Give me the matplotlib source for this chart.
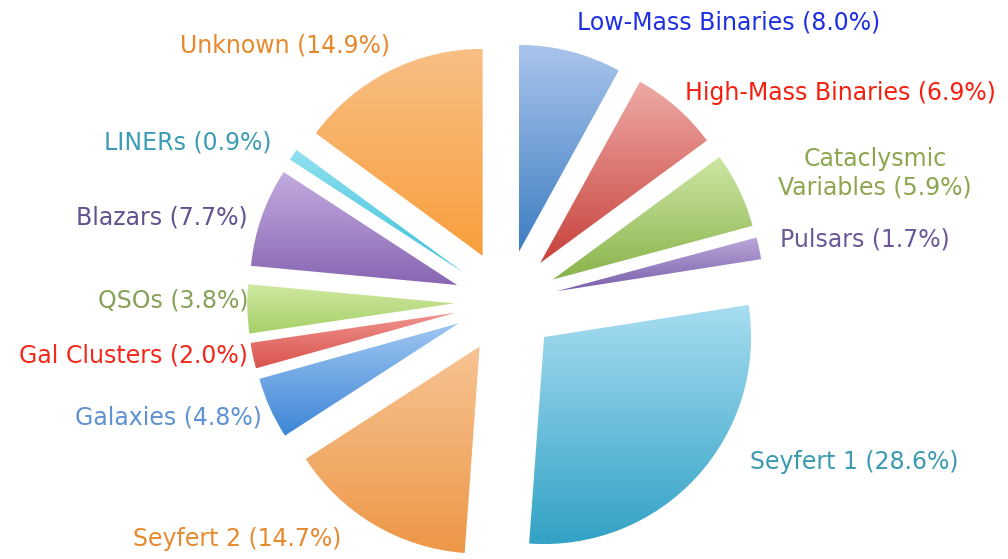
import numpy as np
import matplotlib
matplotlib.use("Agg")
import matplotlib.pyplot as plt
from matplotlib.colors import LinearSegmentedColormap

# source categories, clockwise from 12 o'clock
categories = ["Low-Mass Binaries", "High-Mass Binaries", "Cataclysmic\nVariables", "Pulsars",
              "Seyfert 1", "Seyfert 2", "Galaxies", "Gal Clusters", "QSOs", "Blazars",
              "LINERs", "Unknown"]
shares = [8.0, 6.9, 5.9, 1.7, 28.6, 14.7, 4.8, 2.0, 3.8, 7.7, 0.9, 14.9]

# gradient colours (top, bottom) of each wedge
wedge_top = ["#aac5ec", "#eeaaa6", "#cde6a4", "#bba8da", "#a8ddf1", "#f7c493",
             "#9fc6f2", "#f0938e", "#cfe9a2", "#c2acdf", "#8fe0ef", "#f9bf85"]
wedge_bottom = ["#3d7dc2", "#c8423c", "#8ab34b", "#7a5fa9", "#32a2c5", "#ed9747",
                "#3d86d6", "#d9534d", "#a7cf66", "#8866b3", "#3cc1da", "#f89f3c"]
text_colors = ["#1f30e0", "#f4200f", "#8da64e", "#6a5898", "#3a9ab2", "#e58a2e",
               "#5e92d4", "#f1281a", "#87a157", "#62528f", "#3d9db6", "#e8882c"]

# label anchor in figure pixels (x, y from top) and alignment
label_pos = [(577, 22, "left"), (685, 93, "left"), (875, 173, "center"), (780, 239, "left"),
             (750, 462, "left"), (133, 539, "left"), (262, 417, "right"), (248, 355, "right"),
             (248, 300, "right"), (248, 217, "right"), (272, 142, "right"), (390, 45, "right")]

W, H = 1008, 559
cx, cy, R = 506, 302, 207

fig = plt.figure(figsize=(W / 100, H / 100), dpi=100)
ax = fig.add_axes([0, 0, 1, 1])

wedges, _ = ax.pie(shares, explode=[0.25] * len(shares), startangle=90,
                   counterclock=False, radius=1.0)

for w, c0, c1 in zip(wedges, wedge_top, wedge_bottom):
    ext = w.get_path().get_extents()
    cmap = LinearSegmentedColormap.from_list("g", [c1, c0])
    grad = np.linspace(0, 1, 256).reshape(-1, 1)
    im = ax.imshow(grad, cmap=cmap, origin="lower", aspect="auto",
                   extent=[ext.x0, ext.x1, ext.y0, ext.y1], interpolation="bilinear")
    im.set_clip_path(w)
    w.set_facecolor("none")
    w.set_edgecolor("none")

ax.set_xlim(-cx / R, (W - cx) / R)
ax.set_ylim(-(H - cy) / R, cy / R)
ax.set_aspect("equal")
ax.axis("off")

for name, pct, col, (px, py, ha) in zip(categories, shares, text_colors, label_pos):
    label = f"{name} ({pct:.1f}%)"
    ax.text((px - cx) / R, (cy - py) / R, label, color=col, fontsize=17,
            ha=ha, va="center", family="DejaVu Sans", linespacing=1.25,
            multialignment="center")

fig.savefig("out.png", dpi=100)
